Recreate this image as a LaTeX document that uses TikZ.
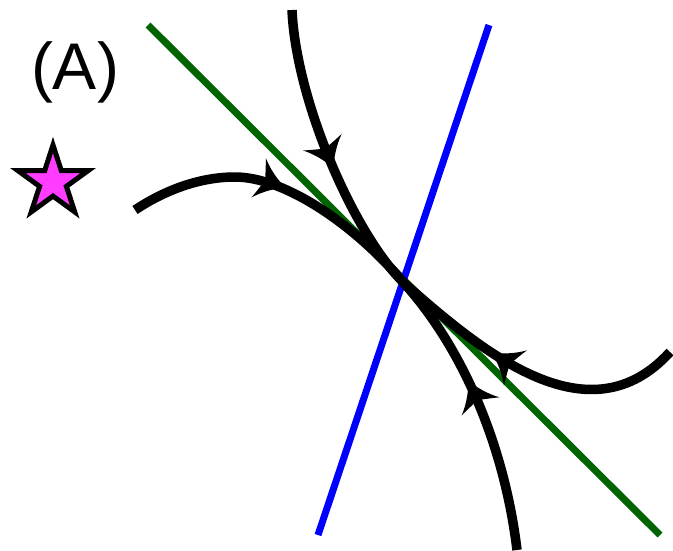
\documentclass[tikz,border=0pt]{standalone}
\usepackage{fontspec}
\setmainfont{Liberation Sans}
\definecolor{lgreen}{RGB}{0,100,0}
\definecolor{starfill}{RGB}{255,60,255}
\tikzset{
  guide/.style={line width=7pt},
  traj/.style={line width=9.5pt},
  headarrow/.pic={
    \fill[black] (2,0) .. controls (-8,4) and (-19,12) .. (-27,21)
      .. controls (-24,13) and (-22,6) .. (-20,0)
      .. controls (-22,-6) and (-24,-13) .. (-27,-21)
      .. controls (-19,-12) and (-8,-4) .. (2,0) -- cycle;},
  starshape/.style={line width=5pt, fill=starfill, draw=black},
}
\begin{document}
\begin{tikzpicture}[x=1pt,y=-1pt]
\useasboundingbox (0,0) rectangle (673,550);
% guide lines
\coordinate (g1) at (148,25);
\coordinate (g2) at (660,535);
\coordinate (b1) at (489,25);
\coordinate (b2) at (318,535);
\draw[guide, lgreen] (g1) -- (g2);
\draw[guide, blue] (b1) -- (b2);
% trajectories
\coordinate (c) at (403,282);
\coordinate (l0) at (135,210);
\coordinate (r0) at (670,352);
\coordinate (t0) at (292,10);
\coordinate (d0) at (517,550);
\draw[traj] (l0) .. controls (165,190) and (200,177) .. (235,177)
  .. controls (285,177) and (355,225) .. (c);
\draw[traj] (r0) .. controls (590,440) and (485,355) .. (c);
\draw[traj] (t0) .. controls (296,100) and (353,232) .. (c);
\draw[traj] (d0) .. controls (505,450) and (465,350) .. (c);
% arrowheads
\pic[rotate=-20] (a1) at (284,187) {headarrow};
\pic[rotate=-66.8] (a2) at (333,167) {headarrow};
\pic[rotate=147] (a3) at (492.8,353.3) {headarrow};
\pic[rotate=115.5] (a4) at (469,382) {headarrow};
% label
\node[font=\fontsize{66}{66}\selectfont, inner sep=0pt] (lab) at (75,72) {(A)};
% star
\draw[starshape, shift={(53,182)}]
  (-90:37) -- (-54:14.1) -- (-18:37) -- (18:14.1) -- (54:37) -- (90:14.1)
  -- (126:37) -- (162:14.1) -- (198:37) -- (234:14.1) -- cycle;
\end{tikzpicture}
\end{document}
